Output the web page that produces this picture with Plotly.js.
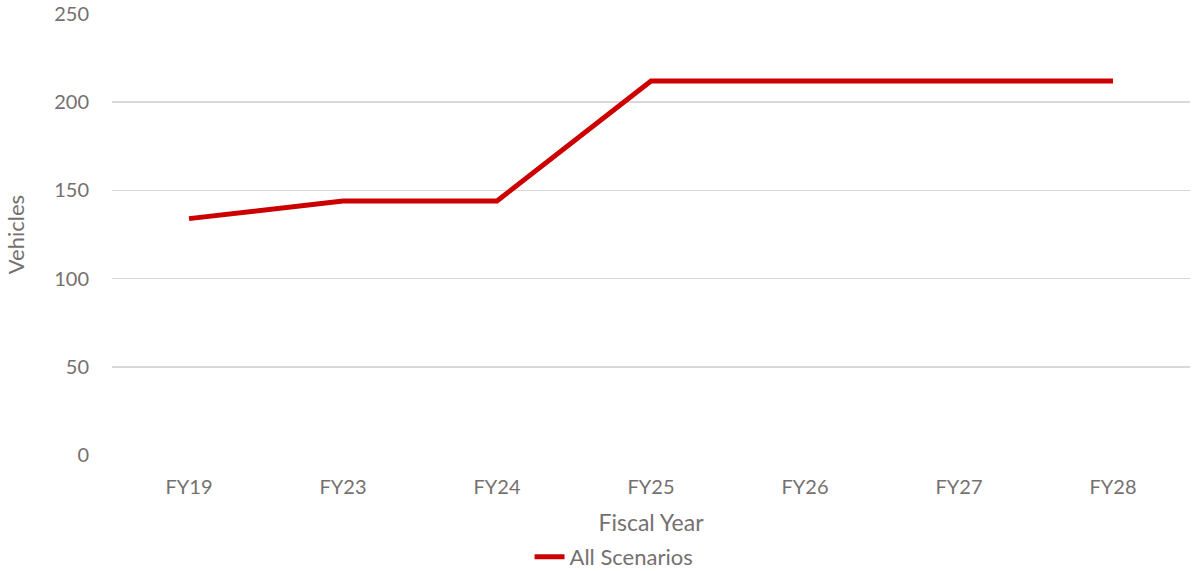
<!DOCTYPE html>
<html><head><meta charset="utf-8">
<script src="https://cdn.plot.ly/plotly-3.0.1.min.js"></script>
<style>html,body{margin:0;padding:0;background:#fff}#c{width:1193px;height:571px}</style>
</head><body><div id="c"></div>
<script>
const categories = ["FY19","FY23","FY24","FY25","FY26","FY27","FY28"];
const allScenarios = [134,144,144,212,212,212,212];
const yTicks = [0,50,100,150,200,250];

const txt = '#757070';
const trace = {
  x: categories, y: allScenarios, type: 'scatter', mode: 'lines',
  name: 'All Scenarios',
  line: {color: '#CC0000', width: 5, shape: 'linear'}
};
const layout = {
  width: 1193, height: 571,
  margin: {l: 112, r: 3, t: 14, b: 116},
  paper_bgcolor: '#fff', plot_bgcolor: '#fff',
  font: {family: 'Lato, "Open Sans", sans-serif', color: txt, size: 20},
  showlegend: true,
  legend: {orientation: 'h', xref: 'container', x: 0.5147, xanchor: 'center', yref: 'container', y: 0.0245, yanchor: 'middle',
           font: {size: 22, color: txt}, itemwidth: 30, borderwidth: 0},
  xaxis: {type: 'category', range: [-0.5, 6.5], automargin: false, showgrid: false, zeroline: false, showline: false,
          ticks: 'outside', ticklen: 14, tickcolor: 'rgba(0,0,0,0)', tickfont: {size: 20, color: txt},
          title: {text: 'Fiscal Year', font: {size: 23, color: txt}, standoff: 19}},
  yaxis: {range: [0, 250], tickvals: yTicks, automargin: false, showgrid: true, gridcolor: '#D9D9D9', gridwidth: 1.5,
          zeroline: false, showline: false, ticks: 'outside', ticklen: 18, tickcolor: 'rgba(0,0,0,0)',
          tickfont: {size: 20, color: txt},
          title: {text: 'Vehicles', font: {size: 22, color: txt}, standoff: 23}}
};
Plotly.newPlot('c', [trace], layout, {displayModeBar: false, staticPlot: true});
</script></body></html>
